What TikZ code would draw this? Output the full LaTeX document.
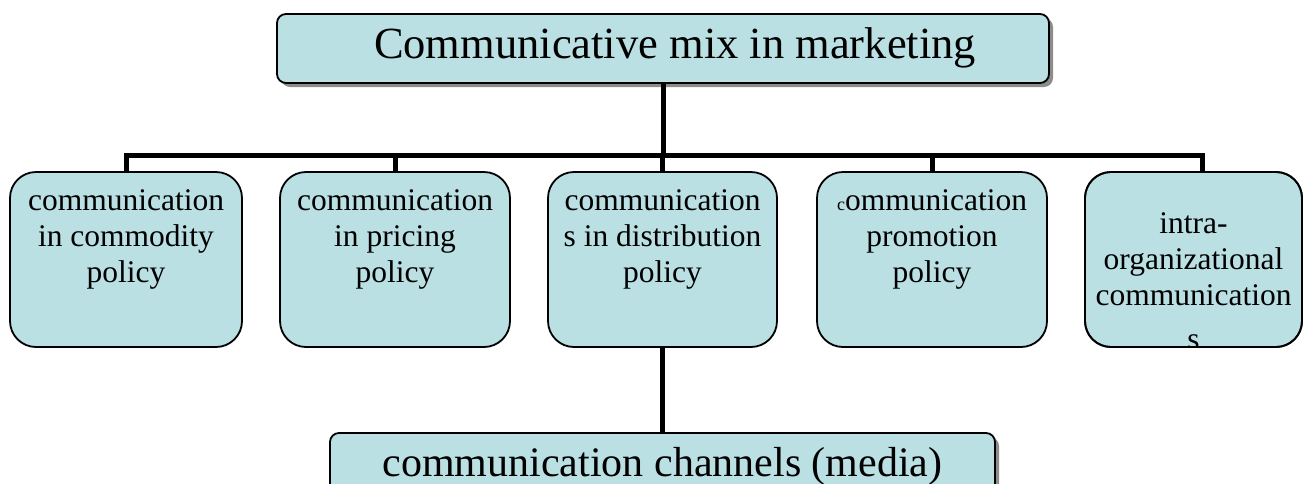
\documentclass[tikz,border=0pt]{standalone}
\usepackage{fontspec}
\setmainfont{Liberation Serif}
\usetikzlibrary{shadows}
\definecolor{boxfill}{HTML}{BAE0E4}
\tikzset{
  bigbox/.style={draw=black, line width=1.8pt, fill=boxfill, rounded corners=9pt,
    inner sep=0pt, outer sep=0pt, drop shadow={shadow xshift=4pt, shadow yshift=-4pt, fill=black!45, opacity=1}},
  smallbox/.style={draw=black, line width=1.8pt, fill=boxfill, rounded corners=26pt, inner sep=0pt, outer sep=0pt},
  boxtext/.style={inner sep=0pt, align=center, font=\fontsize{31.5}{36}\selectfont},
  conn/.style={line width=5pt, draw=black}
}
\begin{document}
\begin{tikzpicture}[x=1pt,y=-1pt]
\useasboundingbox (0,0) rectangle (1304,483);
% top box
\node[bigbox, minimum width=772pt, minimum height=69pt] (top) at (663,48.5) {};
\node[inner sep=0pt, anchor=base, font=\fontsize{44.5}{50}\selectfont] (toptext) at (675,58) {Communicative mix in marketing};
% bottom box
\node[bigbox, minimum width=665pt, minimum height=70pt] (media) at (662.5,468) {};
\node[inner sep=0pt, anchor=base, font=\fontsize{42}{50}\selectfont] (mediatext) at (662.5,476) {communication channels (media)};
% small boxes
\node[smallbox, minimum width=232pt, minimum height=175pt] (b1) at (126,259.5) {};
\node[smallbox, minimum width=230pt, minimum height=175pt] (b2) at (395,259.5) {};
\node[smallbox, minimum width=229pt, minimum height=175pt] (b3) at (662.5,259.5) {};
\node[smallbox, minimum width=230pt, minimum height=175pt] (b4) at (932,259.5) {};
\node[smallbox, minimum width=217pt, minimum height=175pt] (b5) at (1193.5,259.5) {};
\node[boxtext, anchor=north] (t1) at ([yshift=-17pt]b1.north) {communication\\in commodity\\policy};
\node[boxtext, anchor=north] (t2) at ([yshift=-17pt]b2.north) {communication\\in pricing\\policy};
\node[boxtext, anchor=north] (t3) at ([yshift=-17pt]b3.north) {communication\\s in distribution\\policy};
\node[boxtext, anchor=north] (t4) at ([yshift=-17pt]b4.north) {{\fontsize{18}{36}\selectfont c}ommunication\\promotion\\policy};
\begin{scope}
  \clip[rounded corners=26pt] (b5.south west) rectangle (b5.north east);
  \node[boxtext, anchor=north] (t5) at ([yshift=-40pt]b5.north) {intra-\\organizational\\communication\\[8pt]s};
\end{scope}
\draw[line width=1.8pt, rounded corners=26pt] (b5.south west) rectangle (b5.north east);
% connectors
\coordinate (bar) at (0,155);
\draw[conn] (top.south) -- (top.south |- bar);
\draw[conn] (b1.north) -- (b1.north |- bar) -- ([xshift=8.5pt]b5.north |- bar) -- ([xshift=8.5pt]b5.north);
\draw[conn] (b2.north) -- (b2.north |- bar);
\draw[conn] (b3.north) -- (b3.north |- bar);
\draw[conn] (b4.north) -- (b4.north |- bar);
\draw[conn] (b3.south) -- (media.north);
\end{tikzpicture}
\end{document}
